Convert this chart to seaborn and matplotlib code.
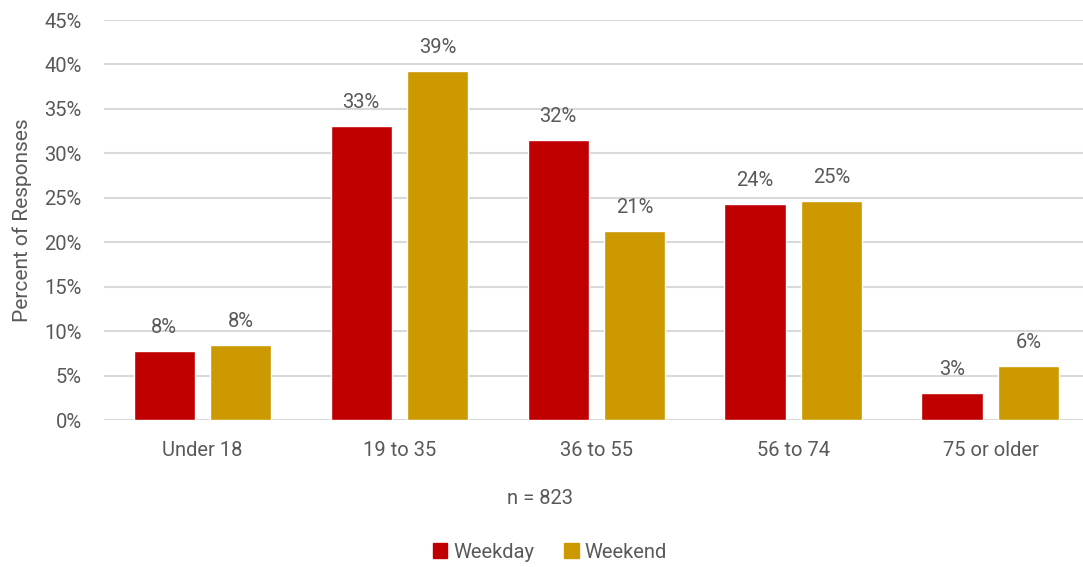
import pandas as pd
import matplotlib
matplotlib.use('Agg')
import matplotlib.pyplot as plt
import seaborn as sns

# age groups and share of responses
age_groups = ['Under 18', '19 to 35', '36 to 55', '56 to 74', '75 or older']
weekday = [7.8, 33.1, 31.5, 24.3, 3.0]
weekend = [8.4, 39.3, 21.3, 24.6, 6.1]
series = ['Weekday', 'Weekend']
colors = ['#C00000', '#CC9900']

df = pd.DataFrame({
    'Age': age_groups * 2,
    'Day': [series[0]] * len(age_groups) + [series[1]] * len(age_groups),
    'Pct': weekday + weekend,
})

sns.set_style('white')
plt.rcParams['font.family'] = ['Liberation Sans Narrow', 'Roboto', 'DejaVu Sans']
grey = '#595959'

fig = plt.figure(figsize=(10.83, 5.67), dpi=100)
ax = fig.add_axes([104 / 1083, 1 - 420 / 567, 979 / 1083, 400 / 567])

sns.barplot(data=df, x='Age', y='Pct', hue='Day', palette=colors, saturation=1,
            width=0.78, gap=0.205, ax=ax, legend=False, zorder=3)

for cont in ax.containers:
    ax.bar_label(cont, labels=[f'{v:.0f}%' for v in cont.datavalues],
                 padding=10, fontsize=14.5, color=grey)

ax.set_ylim(0, 45)
ax.set_xlim(-0.5, 4.47)
ax.set_yticks(range(0, 46, 5))
ax.set_yticklabels([f'{t}%' for t in range(0, 46, 5)])
ax.yaxis.grid(True, color='#D9D9D9', linewidth=1.5, zorder=0)
ax.set_axisbelow(True)
for s in ax.spines.values():
    s.set_visible(False)
ax.tick_params(axis='y', length=0, pad=16, labelsize=14.5, labelcolor=grey)
ax.tick_params(axis='x', length=0, pad=15, labelsize=14.5, labelcolor=grey)
ax.set_xlabel('')
ax.set_ylabel('')

fig.text(22 / 1083, 1 - 220 / 567, 'Percent of Responses', rotation=90,
         ha='center', va='center', fontsize=15, color=grey)
fig.text(540 / 1083, 1 - 498 / 567, 'n = 823', ha='center', va='center',
         fontsize=14.5, color=grey)

handles = [plt.Rectangle((0, 0), 1, 1, color=c) for c in colors]
fig.legend(handles, series, loc='center', bbox_to_anchor=(550 / 1083, 1 - 552 / 567),
           ncol=2, frameon=False, fontsize=14.5, labelcolor=grey,
           handlelength=0.7, handleheight=0.7, handletextpad=0.3, columnspacing=1.5)

fig.savefig('out.png', dpi=100)
